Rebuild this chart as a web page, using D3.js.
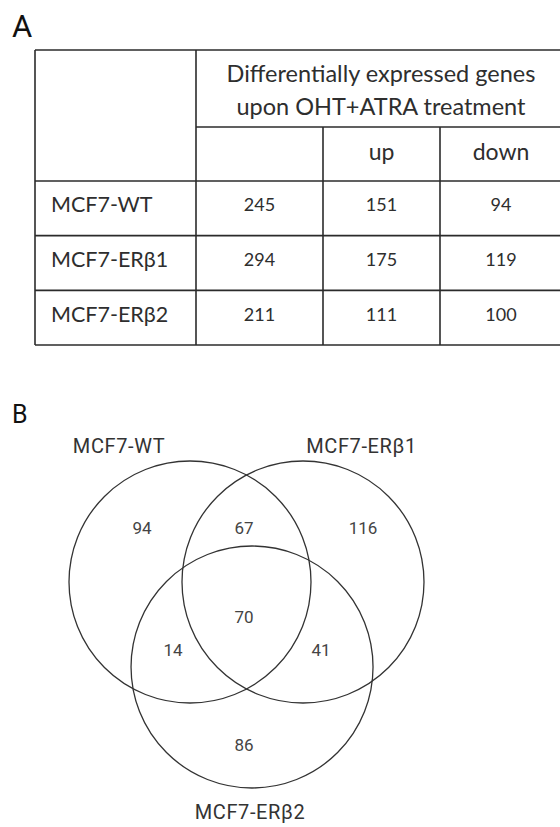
<!DOCTYPE html>
<html>
<head>
<meta charset="utf-8">
<script src="https://cdn.jsdelivr.net/npm/d3@7/dist/d3.min.js"></script>
<style>
  html, body { margin: 0; padding: 0; background: #fff; }
  svg { display: block; }
</style>
</head>
<body>
<svg id="fig" width="560" height="827"></svg>
<script>
// Panel A: counts of differentially expressed genes per cell line
const cellLines = ["MCF7-WT", "MCF7-ER\u03b21", "MCF7-ER\u03b22"];
const totalGenes = [245, 294, 211];
const upGenes = [151, 175, 111];
const downGenes = [94, 119, 100];
const headerLines = ["Differentially expressed genes", "upon OHT+ATRA treatment"];
const subHeaders = ["", "up", "down"];

// Panel B: overlap of gene sets
const setNames = ["MCF7-WT", "MCF7-ER\u03b21", "MCF7-ER\u03b22"];
const regionKeys = ["WT", "WT&b1", "b1", "WT&b1&b2", "WT&b2", "b1&b2", "b2"];
const regionCounts = [94, 67, 116, 70, 14, 41, 86];

const svg = d3.select("#fig");
const ink = "#2b2b2b";
const tableFont = "Lato, 'Open Sans', sans-serif";
const vennFont = "Roboto, 'Noto Sans', sans-serif";

// ---------- Panel A ----------
svg.append("text").attr("x", 12).attr("y", 37)
  .attr("font-family", "Roboto, sans-serif").attr("font-size", 31)
  .attr("fill", "#111").text("A");

const colKeys = ["label", "total", "up", "down"];
const edgeKeys = colKeys.concat(["end"]);
const colEdge = d3.scaleOrdinal().domain(edgeKeys).range([35, 196, 323, 440, 562]);
const colMid = k => { const i = colKeys.indexOf(k); return (colEdge(k) + colEdge(edgeKeys[i + 1])) / 2; };

const headTop = 50, subTop = 127, bodyTop = 181, bodyBottom = 345;
const rowY = d3.scaleBand().domain(cellLines).range([bodyTop, bodyBottom]);

const grid = svg.append("g").attr("stroke", ink).attr("stroke-width", 1.6).attr("fill", "none");
const hLines = [
  [headTop, colEdge("label"), 560],
  [subTop, colEdge("total"), 560],
  [bodyTop, colEdge("label"), 560]
].concat(cellLines.map(c => [rowY(c) + rowY.bandwidth(), colEdge("label"), 560]));
grid.selectAll("line.h").data(hLines).join("line").attr("class", "h")
  .attr("x1", d => d[1]).attr("x2", d => d[2]).attr("y1", d => d[0]).attr("y2", d => d[0]);
const vLines = [
  [colEdge("label"), headTop, bodyBottom],
  [colEdge("total"), headTop, bodyBottom],
  [colEdge("up"), subTop, bodyBottom],
  [colEdge("down"), subTop, bodyBottom]
];
grid.selectAll("line.v").data(vLines).join("line").attr("class", "v")
  .attr("x1", d => d[0]).attr("x2", d => d[0]).attr("y1", d => d[1]).attr("y2", d => d[2]);

const tText = svg.append("g").attr("font-family", tableFont).attr("fill", "#2e2e2e");
const headMid = (colEdge("total") + 560) / 2;
tText.selectAll("text.head").data(headerLines).join("text").attr("class", "head")
  .attr("x", headMid + 3).attr("y", (d, i) => 82 + i * 33)
  .attr("text-anchor", "middle").attr("font-size", 23.5).text(d => d);
tText.selectAll("text.sub").data(subHeaders).join("text").attr("class", "sub")
  .attr("x", (d, i) => colMid(colKeys[i + 1])).attr("y", 160)
  .attr("text-anchor", "middle").attr("font-size", 23).text(d => d);

const rows = cellLines.map((c, i) => ({ label: c, vals: [totalGenes[i], upGenes[i], downGenes[i]] }));
const rowG = tText.selectAll("g.row").data(rows).join("g").attr("class", "row")
  .attr("transform", d => `translate(0,${rowY(d.label) + rowY.bandwidth() / 2})`);
rowG.append("text").attr("x", 51).attr("y", -4).attr("font-size", 21.5)
  .attr("dominant-baseline", "central").text(d => d.label);
rowG.selectAll("text.num").data(d => d.vals).join("text").attr("class", "num")
  .attr("x", (d, i) => colMid(colKeys[i + 1])).attr("y", -4)
  .attr("text-anchor", "middle").attr("dominant-baseline", "central")
  .attr("font-size", 18).text(d => d);

// ---------- Panel B ----------
svg.append("text").attr("x", 12).attr("y", 423)
  .attr("font-family", "Roboto, sans-serif").attr("font-size", 25)
  .attr("fill", "#111").text("B");

// Venn layout in unit space, mapped to pixels
const vx = d3.scaleLinear().domain([0, 1]).range([190, 303]);
const vy = d3.scaleLinear().domain([0, 1]).range([582, 667]);
const radius = 121;
const circles = [
  { name: setNames[0], cx: 0, cy: 0 },
  { name: setNames[1], cx: 1, cy: 0 },
  { name: setNames[2], cx: 0.549, cy: 1 }
];
svg.append("g").selectAll("circle").data(circles).join("circle")
  .attr("cx", d => vx(d.cx)).attr("cy", d => vy(d.cy)).attr("r", radius)
  .attr("fill", "none").attr("stroke", "#333").attr("stroke-width", 1.3);

const setLabelPos = [[-0.628, -1.6], [1.518, -1.6], [0.531, 2.7]];
svg.append("g").attr("font-family", vennFont).attr("font-size", 20).attr("fill", "#333")
  .attr("letter-spacing", 0.6)
  .selectAll("text").data(circles).join("text")
  .attr("x", (d, i) => vx(setLabelPos[i][0])).attr("y", (d, i) => vy(setLabelPos[i][1]))
  .attr("text-anchor", "middle").attr("dominant-baseline", "central")
  .text(d => d.name);

const regionPos = {
  "WT": [-0.425, -0.635], "WT&b1": [0.478, -0.635], "b1": [1.531, -0.635],
  "WT&b1&b2": [0.478, 0.41], "WT&b2": [-0.150, 0.80], "b1&b2": [1.159, 0.80],
  "b2": [0.478, 1.917]
};
const regions = regionKeys.map((k, i) => ({ key: k, n: regionCounts[i] }));
svg.append("g").attr("font-family", vennFont).attr("font-size", 17).attr("fill", "#444")
  .selectAll("text").data(regions).join("text")
  .attr("x", d => vx(regionPos[d.key][0])).attr("y", d => vy(regionPos[d.key][1]))
  .attr("text-anchor", "middle").attr("dominant-baseline", "central")
  .text(d => d.n);
</script>
</body>
</html>
